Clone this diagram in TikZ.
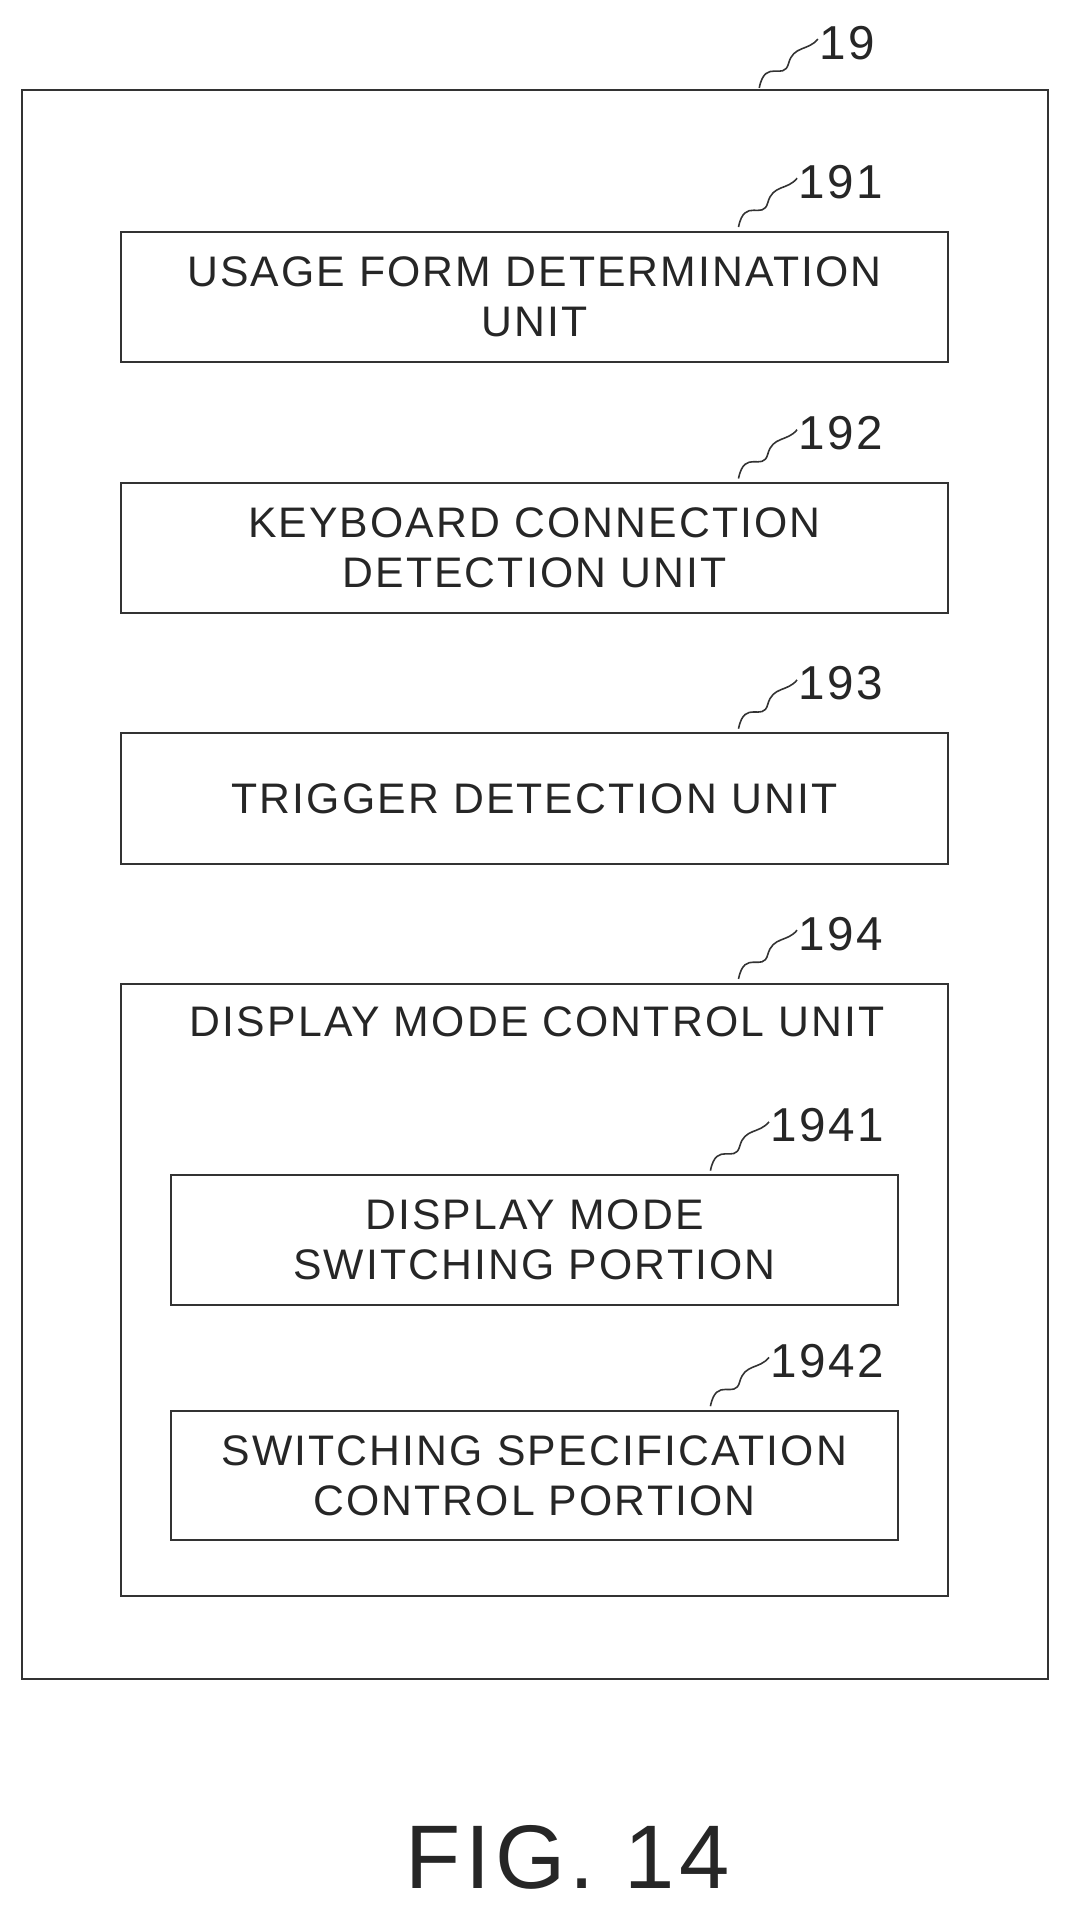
\documentclass[tikz,border=0pt]{standalone}
\usepackage{fontspec}
\setmainfont{Liberation Sans}[LetterSpace=5]
\begin{document}
\begin{tikzpicture}[x=1pt,y=-1pt,
  box/.style={draw=black!80,line width=1.6pt,inner sep=0pt},
  txt/.style={font=\fontsize{35}{41}\selectfont,align=center,text=black!85},
  lbl/.style={font=\fontsize{39}{40}\selectfont,anchor=west,text=black!85},
  sq/.style={line width=1.3pt,black!80}]
\useasboundingbox (0,0) rectangle (877,1568);
\node[box,minimum width=841,minimum height=1302,anchor=north west] (outer) at (17,73) {};
\node[box,minimum width=678,minimum height=107,anchor=north west] (b191) at (98,189) {};
\node[box,minimum width=678,minimum height=106,anchor=north west] (b192) at (98,395) {};
\node[box,minimum width=678,minimum height=107,anchor=north west] (b193) at (98,600) {};
\node[box,minimum width=678,minimum height=502,anchor=north west] (b194) at (98,805) {};
\node[box,minimum width=596,minimum height=106,anchor=north west] (b1941) at (139,962) {};
\node[box,minimum width=596,minimum height=106,anchor=north west] (b1942) at (139,1155) {};
\node[txt] (t191) at (b191.center) {USAGE FORM DETERMINATION\\UNIT};
\node[txt] (t192) at (b192.center) {KEYBOARD CONNECTION\\DETECTION UNIT};
\node[txt] (t193) at (b193.center) {TRIGGER DETECTION UNIT};
\node[txt] (t194) at (440,837) {DISPLAY MODE CONTROL UNIT};
\node[txt] (t1941) at (b1941.center) {DISPLAY MODE\\SWITCHING PORTION};
\node[txt] (t1942) at (b1942.center) {SWITCHING SPECIFICATION\\CONTROL PORTION};
\foreach \n/\sx/\sy in {19/622/72, 191/605/186, 192/605/392, 193/605/597, 194/605/802, 1941/582/959, 1942/582/1152}{
  \coordinate (s\n) at (\sx,\sy);
  \coordinate (e\n) at (\sx+48,\sy-40);
  \draw[sq] (s\n) .. controls (\sx+5,\sy-25) and (\sx+20,\sy-5) .. (\sx+24,\sy-20)
     .. controls (\sx+28,\sy-35) and (\sx+40,\sy-30) .. (e\n);
  \node[lbl] (l\n) at (\sx+46,\sy-37) {\n};
}
\node[font=\fontsize{74}{80}\selectfont,text=black!85] (fig) at (465,1522) {FIG. 14};
\end{tikzpicture}
\end{document}
